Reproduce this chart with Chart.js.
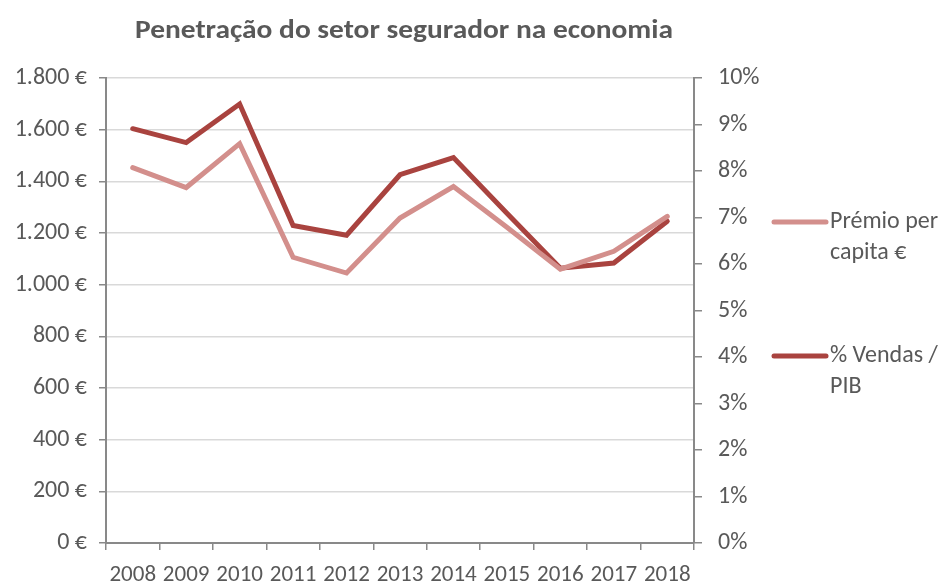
<!DOCTYPE html>
<html><head><meta charset="utf-8">
<script src="https://cdn.jsdelivr.net/npm/chart.js@4/dist/chart.umd.min.js"></script>
<style>html,body{margin:0;padding:0;background:#fff}#wrap{width:942px;height:583px}</style>
</head><body><div id="wrap"><canvas id="c" width="942" height="583"></canvas></div>
<script>
const categories = ['2008','2009','2010','2011','2012','2013','2014','2015','2016','2017','2018'];
const premioPerCapita = [1453, 1376, 1546, 1106, 1045, 1258, 1380, 1222, 1060, 1129, 1264];
const vendasPib = [8.91, 8.61, 9.44, 6.83, 6.62, 7.92, 8.29, 7.09, 5.91, 6.02, 6.92];
const seriesNames = [['Prémio per', 'capita €'], ['% Vendas /', 'PIB']];
const titleText = 'Penetração do setor segurador na economia';

const FONT = "Carlito, 'Liberation Sans Narrow', 'Open Sans', sans-serif";
const TXT = '#595959';
const COL1 = '#D38F8C', COL2 = '#A9433F';

const overlay = {
  id: 'overlay',
  afterDraw(chart) {
    const ctx = chart.ctx;
    ctx.save();
    ctx.fillStyle = TXT;
    ctx.font = "bold 26px " + FONT;
    ctx.textAlign = 'center'; ctx.textBaseline = 'middle';
    const w = ctx.measureText(titleText).width;
    const sx = 538 / w;
    ctx.save();
    ctx.translate(404, 31);
    ctx.scale(sx, 1);
    ctx.fillText(titleText, 0, 0);
    ctx.restore();
    ctx.font = "24px " + FONT;
    ctx.textAlign = 'left';
    const items = [{c: COL1, y: 222}, {c: COL2, y: 356}];
    items.forEach((it, i) => {
      ctx.strokeStyle = it.c; ctx.lineWidth = 5; ctx.lineCap = 'round';
      ctx.beginPath(); ctx.moveTo(774, it.y); ctx.lineTo(826, it.y); ctx.stroke();
      ctx.fillText(seriesNames[i][0], 830, it.y);
      ctx.fillText(seriesNames[i][1], 830, it.y + 31);
    });
    ctx.restore();
  }
};

new Chart(document.getElementById('c'), {
  type: 'line',
  data: {
    labels: categories,
    datasets: [
      {label: seriesNames[0].join(' '), data: premioPerCapita, yAxisID: 'y', borderColor: COL1, backgroundColor: COL1, borderWidth: 5, pointRadius: 0, tension: 0, borderCapStyle: 'round', borderJoinStyle: 'miter'},
      {label: seriesNames[1].join(' '), data: vendasPib, yAxisID: 'y2', borderColor: COL2, backgroundColor: COL2, borderWidth: 5, pointRadius: 0, tension: 0, borderCapStyle: 'round', borderJoinStyle: 'miter'}
    ]
  },
  options: {
    responsive: false, animation: false,
    layout: {padding: {top: 78, left: 0, right: 0, bottom: 0}},
    plugins: {legend: {display: false}, title: {display: false}, tooltip: {enabled: false}},
    scales: {
      x: {
        offset: true,
        grid: {offset: true, drawOnChartArea: false, color: '#898989', tickLength: 7, lineWidth: 1.5},
        border: {color: '#898989', width: 2},
        ticks: {color: TXT, font: {family: FONT, size: 23}, padding: 11, maxRotation: 0, autoSkip: false},
        afterFit(s) { s.height = 40; }
      },
      y: {
        position: 'left', min: 0, max: 1800,
        ticks: {stepSize: 200, color: TXT, font: {family: FONT, size: 24}, padding: 12,
          callback: v => v.toLocaleString('de-DE') + ' €'},
        grid: {color: '#D9D9D9', tickColor: '#898989', tickLength: 7, lineWidth: 1.5},
        border: {color: '#898989', width: 2},
        afterFit(s) { s.width = 106; }
      },
      y2: {
        position: 'right', min: 0, max: 10,
        ticks: {stepSize: 1, color: TXT, font: {family: FONT, size: 24}, padding: 16,
          callback: v => v + '%'},
        grid: {drawOnChartArea: false, color: '#898989', tickLength: 8, lineWidth: 1.5},
        border: {color: '#898989', width: 2},
        afterFit(s) { s.width = 248; }
      }
    }
  },
  plugins: [overlay]
});
</script></body></html>
